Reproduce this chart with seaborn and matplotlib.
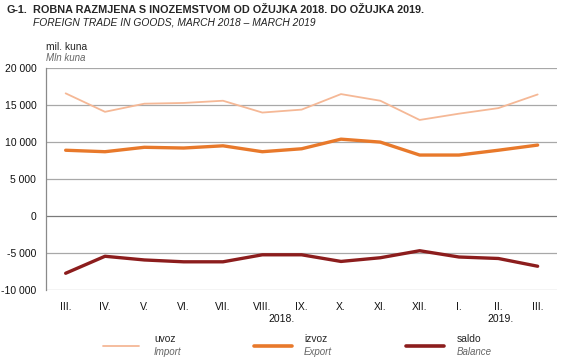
import matplotlib
matplotlib.use("Agg")
import matplotlib.pyplot as plt
from matplotlib.lines import Line2D
import seaborn as sns
import pandas as pd

# mjeseci od ožujka 2018. do ožujka 2019.
mjeseci = ["III.", "IV.", "V.", "VI.", "VII.", "VIII.", "IX.", "X.", "XI.", "XII.", "I.", "II.", "III."]
uvoz = [16600, 14100, 15200, 15300, 15600, 14000, 14400, 16500, 15600, 13000, 13850, 14600, 16450]
izvoz = [8900, 8700, 9300, 9200, 9500, 8700, 9100, 10400, 10000, 8250, 8250, 8900, 9600]
saldo = [-7750, -5450, -5950, -6200, -6200, -5250, -5250, -6150, -5650, -4700, -5550, -5750, -6800]
godine = [("2018.", 5.5), ("2019.", 11.05)]

serije = {"uvoz": uvoz, "izvoz": izvoz, "saldo": saldo}
boje = {"uvoz": "#f5b896", "izvoz": "#e8792b", "saldo": "#8c1d1d"}
debljine = {"uvoz": 1.3, "izvoz": 2.4, "saldo": 2.4}
engl = {"uvoz": "Import", "izvoz": "Export", "saldo": "Balance"}

df = pd.DataFrame(
    [(i, k, v) for k, vals in serije.items() for i, v in enumerate(vals)],
    columns=["pozicija", "serija", "vrijednost"],
)

sns.set_style("white")
plt.rcParams["font.family"] = ["Liberation Sans", "DejaVu Sans"]

fig = plt.figure(figsize=(5.65, 3.61), dpi=100)
ax = fig.add_axes([0.0814, 0.197, 0.905, 0.614])

for s in serije:
    sns.lineplot(data=df[df.serija == s], x="pozicija", y="vrijednost",
                 color=boje[s], linewidth=debljine[s], ax=ax, zorder=3)

ax.set_xlim(-0.5, len(mjeseci) - 0.5)
ax.set_ylim(-10000, 20000)
ax.set_yticks(range(-10000, 20001, 5000))
ax.set_yticklabels([f"{v:,}".replace(",", " ") for v in range(-10000, 20001, 5000)],
                   fontsize=7.5, color="#111111")
ax.set_xticks(range(len(mjeseci)))
ax.set_xticklabels(mjeseci, fontsize=7.5, color="#111111")
ax.tick_params(axis="x", length=0, pad=8.5)
ax.tick_params(axis="y", length=0, pad=7)
ax.set_xlabel("")
ax.set_ylabel("")

for v in range(-10000, 20001, 5000):
    ax.axhline(v, color="#a8a8a8" if v != 0 else "#7a7a7a", linewidth=0.9, zorder=1)

for sp in ["top", "right", "bottom"]:
    ax.spines[sp].set_visible(False)
ax.spines["left"].set_color("#8a8a8a")
ax.spines["left"].set_linewidth(0.9)

for txt, x in godine:
    ax.text(x, -0.13, txt, transform=ax.get_xaxis_transform(), ha="center", va="center",
            fontsize=7.5, color="#111111")

fig.text(0.012, 0.972, "G-1.", fontsize=7.8, fontweight="bold", va="center")
fig.text(0.058, 0.972, "ROBNA RAZMJENA S INOZEMSTVOM OD OŽUJKA 2018. DO OŽUJKA 2019.",
         fontsize=7.8, fontweight="bold", va="center")
fig.text(0.058, 0.939, "FOREIGN TRADE IN GOODS, MARCH 2018 – MARCH 2019",
         fontsize=7.4, style="italic", va="center", color="#222222")
fig.text(0.0814, 0.870, "mil. kuna", fontsize=7.4, va="center")
fig.text(0.0814, 0.839, "Mln kuna", fontsize=7, style="italic", va="center", color="#666666")

# legenda
leg_x = [(103, 139, 154), (254, 292, 304), (406, 444, 457)]
for s, (x0, x1, xt) in zip(serije, leg_x):
    fig.add_artist(Line2D([x0 / 565, x1 / 565], [1 - 345.5 / 361] * 2,
                          color=boje[s], linewidth=debljine[s] if s == "uvoz" else 2.6))
    fig.text(xt / 565, 1 - 339.5 / 361, s, fontsize=7.4, va="center")
    fig.text(xt / 565, 1 - 352 / 361, engl[s], fontsize=7, style="italic", va="center", color="#666666")

fig.savefig("out.png", dpi=100)
